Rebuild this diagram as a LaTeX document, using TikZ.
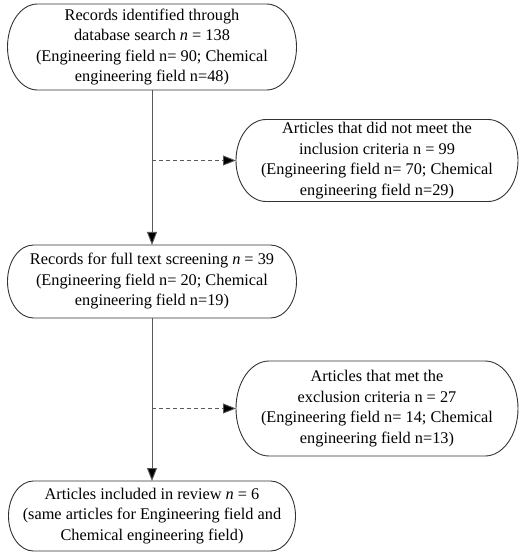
\documentclass[tikz,border=0pt]{standalone}
\usepackage{fontspec}
\setmainfont{Liberation Serif}
\usetikzlibrary{arrows.meta,calc}
\begin{document}
\begin{tikzpicture}[x=1bp,y=1bp,
  pilltext/.style={rectangle, inner sep=0pt, outer sep=0pt, align=center,
    font=\fontsize{16.3bp}{20.5bp}\selectfont},
  pillline/.style={draw=black!80, line width=0.9bp},
  flow/.style={draw=black!65, line width=0.9bp, -{Triangle[length=13bp,width=10bp,fill=black]}},
  side/.style={flow, dash pattern=on 4bp off 3bp}]
\useasboundingbox (0,0) rectangle (521,-553);
\newcommand\pilloutline[2]{%
  \path[pillline] let \p1=(#1.north), \p2=(#1.south), \n1={(\y1-\y2)/2} in
    ([xshift=#2]#1.north west) -- ([xshift=-#2]#1.north east)
    arc[start angle=90,end angle=-90,x radius=#2,y radius=\n1]
    -- ([xshift=#2]#1.south west)
    arc[start angle=270,end angle=90,x radius=#2,y radius=\n1] -- cycle;}
\node[pilltext, minimum width=289bp, minimum height=86bp] (rec) at (152,-47)
  {Records identified through\\ database search \textit{n} = 138\\ (Engineering field n= 90; Chemical\\ engineering field n=48)};
\node[pilltext, minimum width=282bp, minimum height=82bp] (inc) at (377,-160.5)
  {Articles that did not meet the\\ inclusion criteria n = 99\\ (Engineering field n= 70; Chemical\\ engineering field n=29)};
\node[pilltext, minimum width=289bp, minimum height=73bp] (scr) at (152,-281.5)
  {Records for full text screening \textit{n} = 39\\ (Engineering field n= 20; Chemical\\ engineering field n=19)};
\node[pilltext, minimum width=282bp, minimum height=95bp] (exc) at (377,-408.5)
  {Articles that met the\\ exclusion criteria n = 27\\ (Engineering field n= 14; Chemical\\ engineering field n=13)};
\node[pilltext, minimum width=287bp, minimum height=70bp] (rev) at (152,-516)
  {Articles included in review \textit{n} = 6\\ (same articles for Engineering field and\\ Chemical engineering field)};
\pilloutline{rec}{30bp}
\pilloutline{inc}{30bp}
\pilloutline{scr}{26bp}
\pilloutline{exc}{33bp}
\pilloutline{rev}{25bp}
\coordinate (j1) at (rec.south |- inc.west);
\coordinate (j2) at (scr.south |- exc.west);
\draw[flow] (rec.south) -- (scr.north);
\draw[side] (j1) -- (inc.west);
\draw[flow] (scr.south) -- (rev.north);
\draw[side] (j2) -- (exc.west);
\end{tikzpicture}
\end{document}
